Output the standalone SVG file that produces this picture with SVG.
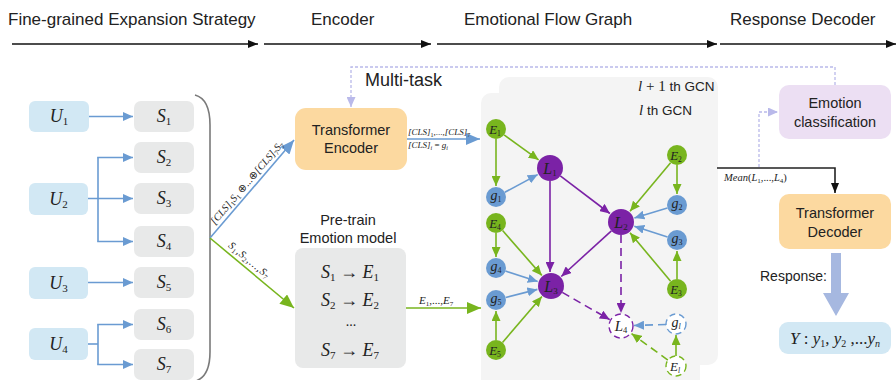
<svg xmlns="http://www.w3.org/2000/svg" width="896" height="380" viewBox="0 0 896 380">
<defs>
<style>
.hd{font-family:"Liberation Sans",Arial,sans-serif;font-size:17px;fill:#222}
.sans{font-family:"Liberation Sans",Arial,sans-serif;fill:#222}
.ser{font-family:"Liberation Serif","Times New Roman",serif;fill:#222}
.it{font-style:italic}
.ubox{fill:#d2e8f4}
.sbox{fill:#e8e9e9}
.ob{fill:#fcd9a0}
.bl{stroke:#6a9bd2;stroke-width:1.6;fill:none}
.gr{stroke:#78b51e;stroke-width:1.6;fill:none}
.pu{stroke:#7b22a6;stroke-width:1.6;fill:none}
.dash{stroke-dasharray:8 5}
.lil{stroke:#b9b9ea;stroke-width:1.3;fill:none;stroke-dasharray:3 2}
.nE{fill:#78b51e}
.nG{fill:#6a9bd2}
.nL{fill:#7b22a6}
</style>
<marker id="ak" viewBox="0 0 10 8" refX="10" refY="4" markerWidth="10" markerHeight="8" markerUnits="userSpaceOnUse" orient="auto"><path d="M0,0 L10,4 L0,8 z" fill="#111"/></marker>
<marker id="ab" viewBox="0 0 10 9" refX="10" refY="4.5" markerWidth="10" markerHeight="9" markerUnits="userSpaceOnUse" orient="auto"><path d="M0,0 L10,4.5 L0,9 z" fill="#6a9bd2"/></marker>
<marker id="ag" viewBox="0 0 10 9" refX="10" refY="4.5" markerWidth="10" markerHeight="9" markerUnits="userSpaceOnUse" orient="auto"><path d="M0,0 L10,4.5 L0,9 z" fill="#78b51e"/></marker>
<marker id="ap" viewBox="0 0 10 9" refX="10" refY="4.5" markerWidth="10" markerHeight="9" markerUnits="userSpaceOnUse" orient="auto"><path d="M0,0 L10,4.5 L0,9 z" fill="#7b22a6"/></marker>
<marker id="al" viewBox="0 0 10 9" refX="10" refY="4.5" markerWidth="10" markerHeight="9" markerUnits="userSpaceOnUse" orient="auto"><path d="M0,0 L10,4.5 L0,9 z" fill="#b9b9ea"/></marker>
<marker id="abg" viewBox="0 0 14 12" refX="14" refY="6" markerWidth="14" markerHeight="12" markerUnits="userSpaceOnUse" orient="auto"><path d="M0,0 L14,6 L0,12 z" fill="#6a9bd2"/></marker>
<marker id="agg" viewBox="0 0 14 12" refX="14" refY="6" markerWidth="14" markerHeight="12" markerUnits="userSpaceOnUse" orient="auto"><path d="M0,0 L14,6 L0,12 z" fill="#78b51e"/></marker>
</defs>

<g id="header">
<text class="hd" x="8" y="25">Fine-grained Expansion Strategy</text>
<text class="hd" x="311" y="25">Encoder</text>
<text class="hd" x="464" y="25">Emotional Flow Graph</text>
<text class="hd" x="730" y="25">Response Decoder</text>
<g stroke="#111" stroke-width="1.5">
<line x1="12" y1="44" x2="258" y2="44" marker-end="url(#ak)"/>
<line x1="264" y1="44" x2="431" y2="44" marker-end="url(#ak)"/>
<line x1="437" y1="44" x2="717" y2="44" marker-end="url(#ak)"/>
<line x1="720" y1="44" x2="896" y2="44" marker-end="url(#ak)"/>
</g>
</g>

<g id="gcn-panels">
<rect x="499" y="77" width="219" height="288" rx="10" fill="#f4f4f4"/>
<rect x="481" y="93" width="219" height="310" rx="10" fill="#f4f4f4"/>
<text x="638" y="91" class="ser it" font-size="15">l<tspan font-style="normal"> + 1 </tspan><tspan class="sans" font-style="normal" font-size="13.5">th GCN</tspan></text>
<text x="639" y="115" class="ser it" font-size="15">l<tspan class="sans" font-style="normal" font-size="13.5"> th GCN</tspan></text>
</g>

<g id="connectors">
<!-- left expansion -->
<line class="bl" x1="89" y1="116.5" x2="133" y2="116.5" marker-end="url(#ab)"/>
<line class="bl" x1="88" y1="198.5" x2="133" y2="198.5" marker-end="url(#ab)"/>
<line class="bl" x1="98" y1="157.5" x2="98" y2="241.5"/>
<line class="bl" x1="97.2" y1="157.5" x2="133" y2="157.5" marker-end="url(#ab)"/>
<line class="bl" x1="97.2" y1="241.5" x2="133" y2="241.5" marker-end="url(#ab)"/>
<line class="bl" x1="88" y1="282.5" x2="133" y2="282.5" marker-end="url(#ab)"/>
<line class="bl" x1="88" y1="344" x2="98" y2="344"/>
<line class="bl" x1="98" y1="324.5" x2="98" y2="364.5"/>
<line class="bl" x1="97.2" y1="324.5" x2="133" y2="324.5" marker-end="url(#ab)"/>
<line class="bl" x1="97.2" y1="364.5" x2="133" y2="364.5" marker-end="url(#ab)"/>
<!-- brace -->
<path d="M195,95 Q210,99 210,125 V352 Q210,376 196,381" stroke="#7a7a7a" stroke-width="1.6" fill="none"/>
<!-- to encoder / emotion model -->
<line class="bl" stroke-width="2" x1="210" y1="238" x2="294" y2="140" marker-end="url(#abg)"/>
<line class="gr" stroke-width="2" x1="210" y1="238" x2="294" y2="308" marker-end="url(#agg)"/>
<text class="ser it" font-size="10.5" text-anchor="middle" textLength="106" lengthAdjust="spacing" transform="translate(249.5,185) rotate(-49.4)">[CLS]<tspan font-style="normal" font-size="7" dy="2">1</tspan><tspan dy="-2">S</tspan><tspan font-style="normal" font-size="7" dy="2">1</tspan><tspan font-style="normal" dy="-2"> ⊕...⊕</tspan>[CLS]<tspan font-style="normal" font-size="7" dy="2">7</tspan><tspan dy="-2">S</tspan><tspan font-style="normal" font-size="7" dy="2">7</tspan></text>
<text class="ser it" font-size="10.5" text-anchor="middle" textLength="50" lengthAdjust="spacing" transform="translate(247,262.5) rotate(39.8)">S<tspan font-style="normal" font-size="7" dy="2">1</tspan><tspan font-style="normal" dy="-2">,</tspan>S<tspan font-style="normal" font-size="7" dy="2">2</tspan><tspan font-style="normal" dy="-2">,...,</tspan>S<tspan font-style="normal" font-size="7" dy="2">7</tspan></text>
<!-- encoder / emotion to graph -->
<line class="bl" stroke-width="2" x1="407" y1="139" x2="480" y2="139" marker-end="url(#abg)"/>
<text class="ser it" font-size="9" x="408" y="135">[CLS]<tspan font-style="normal" font-size="6" dy="2">1</tspan><tspan font-style="normal" dy="-2">,...,</tspan>[CLS]<tspan font-style="normal" font-size="6" dy="2">7</tspan></text>
<text class="ser it" font-size="9" x="408" y="148">[CLS]<tspan font-size="6" dy="2">i</tspan><tspan font-style="normal" dy="-2"> = </tspan>g<tspan font-size="6" dy="2">i</tspan></text>
<line class="gr" stroke-width="2" x1="406" y1="308" x2="481" y2="308" marker-end="url(#agg)"/>
<text class="ser it" font-size="11" x="419" y="304">E<tspan font-style="normal" font-size="7" dy="2">1</tspan><tspan font-style="normal" dy="-2">,...,</tspan>E<tspan font-style="normal" font-size="7" dy="2">7</tspan></text>
<!-- multi-task dashed -->
<path class="lil" d="M835,85 V67 H351 V107" marker-end="url(#al)"/>
<path class="lil" d="M759,167 V112 H778" marker-end="url(#al)"/>
<!-- mean to decoder -->
<path d="M717,168 H835 V193" stroke="#222" stroke-width="1.6" fill="none" marker-end="url(#ak)"/>
<text class="ser it" font-size="10.5" x="724" y="181">Mean<tspan font-style="normal">(</tspan>L<tspan font-style="normal" font-size="7" dy="2">1</tspan><tspan font-style="normal" dy="-2">,...,</tspan>L<tspan font-style="normal" font-size="7" dy="2">4</tspan><tspan font-style="normal" dy="-2">)</tspan></text>
<!-- response big arrow -->
<path d="M831,253 H841 V293 H849 L836,316 L823,293 H831 Z" fill="#a6b8e0"/>
<!-- graph edges -->
<line class="gr" x1="504.1" y1="134.9" x2="538.6" y2="159.8" marker-end="url(#ag)"/>
<line class="gr" x1="496" y1="139" x2="496" y2="186" marker-end="url(#ag)"/>
<line class="bl" x1="504.8" y1="192.3" x2="537.7" y2="174.6" marker-end="url(#ab)"/>
<line class="pu" x1="560.3" y1="175.9" x2="609.9" y2="213.5" marker-end="url(#ap)"/>
<line class="pu" x1="550" y1="181" x2="550" y2="272" marker-end="url(#ap)"/>
<line class="gr" x1="670.6" y1="162.7" x2="630" y2="211.3" marker-end="url(#ag)"/>
<line class="gr" x1="677" y1="165" x2="677" y2="194" marker-end="url(#ag)"/>
<line class="bl" x1="667.4" y1="207.9" x2="634.4" y2="217.9" marker-end="url(#ab)"/>
<line class="bl" x1="667.5" y1="236.9" x2="634.3" y2="226.3" marker-end="url(#ab)"/>
<line class="gr" x1="670.6" y1="281.3" x2="630" y2="232.7" marker-end="url(#ag)"/>
<line class="gr" x1="677" y1="279" x2="677" y2="251" marker-end="url(#ag)"/>
<line class="pu" x1="611.4" y1="230.8" x2="561.3" y2="276.5" marker-end="url(#ap)"/>
<line class="gr" x1="502.6" y1="230.5" x2="541.8" y2="275.4" marker-end="url(#ag)"/>
<line class="gr" x1="496" y1="233" x2="496" y2="257" marker-end="url(#ag)"/>
<line class="bl" x1="505.5" y1="271.1" x2="537.7" y2="281.6" marker-end="url(#ab)"/>
<line class="bl" x1="505.7" y1="297.5" x2="537.4" y2="289.4" marker-end="url(#ab)"/>
<line class="gr" x1="502.5" y1="342.4" x2="541.9" y2="296.6" marker-end="url(#ag)"/>
<line class="gr" x1="496" y1="340" x2="496" y2="311" marker-end="url(#ag)"/>
<line class="pu dash" x1="562.3" y1="292.4" x2="609.7" y2="319.6" marker-end="url(#ap)"/>
<line class="pu dash" x1="621" y1="235" x2="621" y2="313" marker-end="url(#ap)"/>
<line class="bl dash" x1="666" y1="324.5" x2="634" y2="325.5" marker-end="url(#ab)"/>
<line class="gr dash" x1="667.9" y1="360.1" x2="631.5" y2="333.6" marker-end="url(#ag)"/>
<line class="gr" x1="676" y1="356" x2="676" y2="335" marker-end="url(#ag)"/>
</g>

<g id="U1"><rect class="ubox" x="29" y="101" width="60" height="31" rx="6"/><text class="ser it" font-size="18" x="59" y="122" text-anchor="middle">U<tspan font-style="normal" font-size="11" dy="3">1</tspan></text></g>
<g id="U2"><rect class="ubox" x="29" y="183" width="59" height="32" rx="6"/><text class="ser it" font-size="18" x="58.5" y="204.5" text-anchor="middle">U<tspan font-style="normal" font-size="11" dy="3">2</tspan></text></g>
<g id="U3"><rect class="ubox" x="29" y="267" width="59" height="32" rx="6"/><text class="ser it" font-size="18" x="58.5" y="288.5" text-anchor="middle">U<tspan font-style="normal" font-size="11" dy="3">3</tspan></text></g>
<g id="U4"><rect class="ubox" x="29" y="328" width="59" height="32" rx="6"/><text class="ser it" font-size="18" x="58.5" y="349.5" text-anchor="middle">U<tspan font-style="normal" font-size="11" dy="3">4</tspan></text></g>

<g id="S1"><rect class="sbox" x="134" y="101" width="60" height="31" rx="7"/><text class="ser it" font-size="18" x="164" y="122" text-anchor="middle">S<tspan font-style="normal" font-size="11" dy="3">1</tspan></text></g>
<g id="S2"><rect class="sbox" x="134" y="142" width="60" height="31" rx="7"/><text class="ser it" font-size="18" x="164" y="163" text-anchor="middle">S<tspan font-style="normal" font-size="11" dy="3">2</tspan></text></g>
<g id="S3"><rect class="sbox" x="134" y="183" width="60" height="31" rx="7"/><text class="ser it" font-size="18" x="164" y="204" text-anchor="middle">S<tspan font-style="normal" font-size="11" dy="3">3</tspan></text></g>
<g id="S4"><rect class="sbox" x="134" y="226" width="60" height="31" rx="7"/><text class="ser it" font-size="18" x="164" y="247" text-anchor="middle">S<tspan font-style="normal" font-size="11" dy="3">4</tspan></text></g>
<g id="S5"><rect class="sbox" x="134" y="267" width="60" height="31" rx="7"/><text class="ser it" font-size="18" x="164" y="288" text-anchor="middle">S<tspan font-style="normal" font-size="11" dy="3">5</tspan></text></g>
<g id="S6"><rect class="sbox" x="134" y="309" width="60" height="31" rx="7"/><text class="ser it" font-size="18" x="164" y="330" text-anchor="middle">S<tspan font-style="normal" font-size="11" dy="3">6</tspan></text></g>
<g id="S7"><rect class="sbox" x="134" y="349" width="60" height="31" rx="7"/><text class="ser it" font-size="18" x="164" y="370" text-anchor="middle">S<tspan font-style="normal" font-size="11" dy="3">7</tspan></text></g>

<g id="multitask"><text class="sans" font-size="18" x="365" y="86">Multi-task</text></g>

<g id="encoder"><rect class="ob" x="295" y="108" width="112" height="62" rx="11"/>
<text class="sans" font-size="14.5" x="351" y="135" text-anchor="middle">Transformer</text>
<text class="sans" font-size="14.5" x="351" y="153" text-anchor="middle">Encoder</text></g>

<g id="emotion-model">
<text class="sans" font-size="14.5" x="348" y="225" text-anchor="middle">Pre-train</text>
<text class="sans" font-size="14.5" x="348" y="243" text-anchor="middle">Emotion model</text>
<rect class="sbox" x="295" y="248" width="111" height="120" rx="8"/>
<text class="ser it" font-size="18" x="350" y="278" text-anchor="middle">S<tspan font-style="normal" font-size="11" dy="3">1</tspan><tspan font-style="normal" dy="-3"> → </tspan>E<tspan font-style="normal" font-size="11" dy="3">1</tspan></text>
<text class="ser it" font-size="18" x="350" y="306" text-anchor="middle">S<tspan font-style="normal" font-size="11" dy="3">2</tspan><tspan font-style="normal" dy="-3"> → </tspan>E<tspan font-style="normal" font-size="11" dy="3">2</tspan></text>
<text class="ser" font-size="14" x="351" y="326" text-anchor="middle">...</text>
<text class="ser it" font-size="18" x="350" y="356" text-anchor="middle">S<tspan font-style="normal" font-size="11" dy="3">7</tspan><tspan font-style="normal" dy="-3"> → </tspan>E<tspan font-style="normal" font-size="11" dy="3">7</tspan></text>
</g>

<g id="E1"><circle class="nE" cx="496" cy="129" r="10"/><text class="ser it" font-size="13" x="495" y="134" text-anchor="middle">E<tspan font-style="normal" font-size="7.5" dy="2">1</tspan></text></g>
<g id="g1"><circle class="nG" cx="496" cy="197" r="10"/><text class="ser it" font-size="14" x="496" y="200" text-anchor="middle">g<tspan font-style="normal" font-size="8" dy="2">1</tspan></text></g>
<g id="L1"><circle class="nL" cx="550" cy="168" r="13"/><text class="ser it" font-size="16" x="550" y="174" text-anchor="middle">L<tspan font-style="normal" font-size="9" dy="2">1</tspan></text></g>
<g id="E2"><circle class="nE" cx="677" cy="155" r="10"/><text class="ser it" font-size="13" x="676" y="160" text-anchor="middle">E<tspan font-style="normal" font-size="7.5" dy="2">2</tspan></text></g>
<g id="g2"><circle class="nG" cx="677" cy="205" r="10"/><text class="ser it" font-size="14" x="677" y="208" text-anchor="middle">g<tspan font-style="normal" font-size="8" dy="2">2</tspan></text></g>
<g id="L2"><circle class="nL" cx="621" cy="222" r="13"/><text class="ser it" font-size="16" x="621" y="228" text-anchor="middle">L<tspan font-style="normal" font-size="9" dy="2">2</tspan></text></g>
<g id="g3"><circle class="nG" cx="677" cy="240" r="10"/><text class="ser it" font-size="14" x="677" y="243" text-anchor="middle">g<tspan font-style="normal" font-size="8" dy="2">3</tspan></text></g>
<g id="E3"><circle class="nE" cx="677" cy="289" r="10"/><text class="ser it" font-size="13" x="676" y="294" text-anchor="middle">E<tspan font-style="normal" font-size="7.5" dy="2">3</tspan></text></g>
<g id="E4"><circle class="nE" cx="496" cy="223" r="10"/><text class="ser it" font-size="13" x="495" y="228" text-anchor="middle">E<tspan font-style="normal" font-size="7.5" dy="2">4</tspan></text></g>
<g id="g4"><circle class="nG" cx="496" cy="268" r="10"/><text class="ser it" font-size="14" x="496" y="271" text-anchor="middle">g<tspan font-style="normal" font-size="8" dy="2">4</tspan></text></g>
<g id="g5"><circle class="nG" cx="496" cy="300" r="10"/><text class="ser it" font-size="14" x="496" y="303" text-anchor="middle">g<tspan font-style="normal" font-size="8" dy="2">5</tspan></text></g>
<g id="E5"><circle class="nE" cx="496" cy="350" r="10"/><text class="ser it" font-size="13" x="495" y="355" text-anchor="middle">E<tspan font-style="normal" font-size="7.5" dy="2">5</tspan></text></g>
<g id="L3"><circle class="nL" cx="551" cy="286" r="13"/><text class="ser it" font-size="16" x="551" y="292" text-anchor="middle">L<tspan font-style="normal" font-size="9" dy="2">3</tspan></text></g>
<g id="L4"><circle cx="621" cy="326" r="12" fill="#fff" stroke="#7b22a6" stroke-width="1.4" stroke-dasharray="6 4"/><text class="ser it" font-size="15" x="621" y="331" text-anchor="middle">L<tspan font-style="normal" font-size="8.5" dy="2">4</tspan></text></g>
<g id="gl"><circle cx="676" cy="324" r="10" fill="#fff" stroke="#6a9bd2" stroke-width="1.4" stroke-dasharray="6 4"/><text class="ser it" font-size="14" x="676" y="327" text-anchor="middle">g<tspan font-size="8" dy="2">l</tspan></text></g>
<g id="El"><circle cx="676" cy="366" r="10" fill="#fff" stroke="#78b51e" stroke-width="1.4" stroke-dasharray="6 4"/><text class="ser it" font-size="13" x="675" y="371" text-anchor="middle">E<tspan font-size="7.5" dy="2">l</tspan></text></g>

<g id="emotion-classification"><rect x="779" y="85" width="112" height="54" rx="10" fill="#ecdff3"/>
<text class="sans" font-size="14.5" x="835" y="108" text-anchor="middle">Emotion</text>
<text class="sans" font-size="14.5" x="835" y="127" text-anchor="middle">classification</text></g>

<g id="decoder"><rect class="ob" x="779" y="194" width="112" height="55" rx="10"/>
<text class="sans" font-size="14.5" x="835" y="218" text-anchor="middle">Transformer</text>
<text class="sans" font-size="14.5" x="835" y="237" text-anchor="middle">Decoder</text></g>

<g id="response-label"><text class="sans" font-size="14" x="760" y="281">Response:</text></g>

<g id="Y"><rect class="ubox" x="779" y="322" width="112" height="32" rx="9"/>
<text class="ser it" font-size="17" x="835" y="344" text-anchor="middle">Y<tspan font-style="normal"> : </tspan>y<tspan font-style="normal" font-size="10" dy="3">1</tspan><tspan font-style="normal" dy="-3">, </tspan>y<tspan font-style="normal" font-size="10" dy="3">2</tspan><tspan font-style="normal" dy="-3"> ,...</tspan>y<tspan font-size="10" dy="3">n</tspan></text></g>
</svg>
